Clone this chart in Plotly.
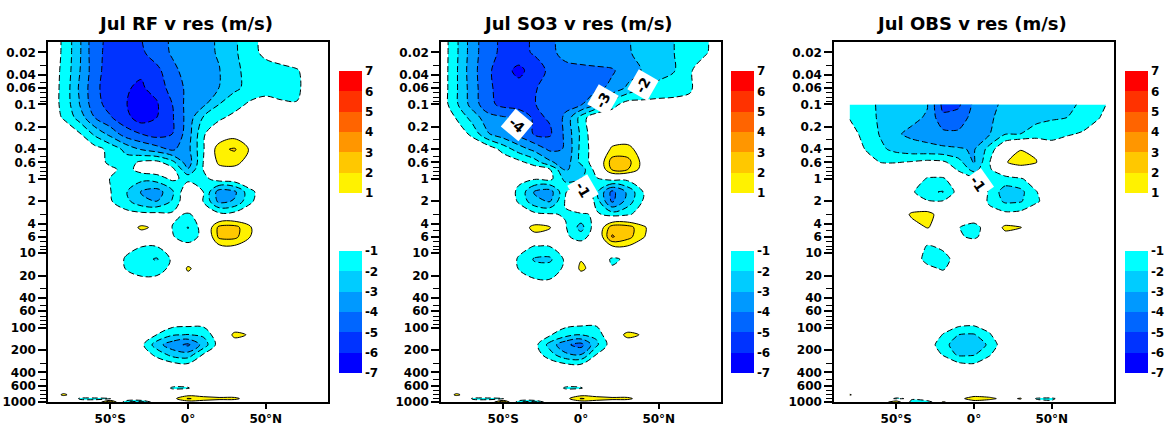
import numpy as np
import plotly.graph_objects as go

# ---------------- data ----------------
lat = [-90, -80, -70, -60, -50, -40, -30, -20, -10, 0, 10, 20, 30, 40, 50, 60, 70, 80, 90]
lat_obs = [-80, -70, -60, -50, -40, -30, -20, -10, 0, 10, 20, 30, 40, 50, 60, 70, 80, 85]
plev = [0.01, 0.02, 0.035, 0.06, 0.1, 0.15, 0.25, 0.4, 0.6, 0.75, 1, 1.5, 2, 3, 4.5, 6, 8,
        12, 16, 25, 50, 90, 125, 170, 230, 320, 500, 650, 800, 900, 1000]
plev_obs = [0.1, 0.15, 0.25, 0.4, 0.6, 0.75, 1, 1.5, 2, 3, 4.5, 6, 8,
            12, 16, 25, 50, 90, 125, 170, 230, 320, 500, 650, 800, 900, 1000]

rf_v = [
    [-0.3, -1.15, -2.8, -4.7, -5.2, -5.4, -5.0, -4.3, -3.9, -3.6, -3.3, -2.9, -2.15, -1.4, -0.7, -0.3, -0.1, 0, 0],
    [-0.3, -1.15, -2.8, -4.7, -5.3, -5.6, -5.2, -4.4, -3.9, -3.6, -3.3, -2.9, -2.15, -1.4, -0.7, -0.3, -0.1, 0, 0],
    [-0.4, -1.2, -2.9, -4.6, -5.5, -5.9, -5.9, -5.3, -4.2, -3.7, -3.4, -3.05, -2.2, -1.7, -1.5, -1.35, -1.1, -0.4, 0],
    [-0.4, -1.25, -3.1, -4.7, -5.6, -5.95, -6.1, -5.7, -4.5, -3.8, -3.4, -3.0, -2.2, -1.7, -1.5, -1.4, -1.2, -0.4, 0],
    [-0.4, -1.25, -2.95, -4.6, -5.4, -5.95, -6.6, -6.1, -5.0, -3.6, -3.2, -2.0, -1.4, -0.8, -0.5, -0.85, -0.95, -0.3, 0],
    [-0.4, -1.1, -2.4, -4.0, -4.9, -5.7, -6.5, -6.0, -5.1, -3.6, -1.9, -1.2, -0.7, -0.3, -0.2, -0.2, -0.2, -0.1, 0],
    [0, -0.3, -0.85, -2.2, -3.3, -4.5, -5.0, -5.4, -5.0, -3.5, -1.1, -0.2, 0.5, 0.3, 0, 0, 0, 0, 0],
    [0, 0, -0.2, -0.6, -1.3, -2.3, -3.1, -3.6, -4.2, -3.3, -1.1, 1.8, 2.1, 0.85, 0, 0, 0, 0, 0],
    [0, 0, 0, -0.3, -1.3, -1.5, -0.8, -0.7, -1.7, -3.6, -0.95, 1.3, 1.4, 0.4, 0, 0, 0, 0, 0],
    [0, 0, 0, -0.2, -0.7, -1.4, -0.6, -0.4, -0.7, -2.9, -0.95, 0.5, 0.6, 0, 0, 0, 0, 0, 0],
    [0, 0, 0, -0.3, -1.05, -1.5, -1.7, -1.5, -0.8, -1.3, -1.3, -0.5, -0.3, 0, 0, 0, 0, 0, 0],
    [0, 0, 0, -0.2, -0.95, -1.9, -3.1, -3.5, -2.2, 0.0, -1.02, -3.5, -3.2, -1.3, -0.3, 0, 0, 0, 0],
    [0, 0, 0, -0.2, -0.9, -1.7, -2.7, -3.0, -1.9, 0.0, -1.05, -3.3, -2.9, -1.2, -0.2, 0, 0, 0, 0],
    [0, 0, 0, 0, -0.4, -0.6, -0.7, -0.7, -0.8, -1.1, -0.6, -0.7, -0.6, -0.3, 0, 0, 0, 0, 0],
    [0, 0, 0, 0, 0, 0.1, 1.25, 0.7, -1.05, -2.05, -0.45, 2.3, 2.4, 1.1, 0.2, 0, 0, 0, 0],
    [0, 0, 0, 0, 0, 0, 0.3, 0.1, -0.9, -1.7, -0.6, 2.25, 2.3, 1.0, 0.1, 0, 0, 0, 0],
    [0, 0, 0, 0, -0.2, -0.7, -0.95, -0.95, -0.6, -0.6, -0.1, 0.8, 0.9, 0.4, 0, 0, 0, 0, 0],
    [0, 0, 0, 0, -0.3, -1.1, -1.7, -2.1, -0.8, 0.2, 0, 0, 0, 0, 0, 0, 0, 0, 0],
    [0, 0, 0, 0, -0.3, -1.05, -1.6, -1.5, -0.7, 1.2, 0.2, 0, 0, 0, 0, 0, 0, 0, 0],
    [0, 0, 0, 0, 0, -0.3, -0.5, -0.5, -0.2, 0.2, 0, 0, 0, 0, 0, 0, 0, 0, 0],
    [0, 0, 0, 0, 0, 0, 0, 0, 0, 0, 0, 0, 0, 0, 0, 0, 0, 0, 0],
    [0, 0, 0, 0, 0, 0, 0, -0.3, -0.6, -0.7, -0.7, -0.3, 0.2, 0.1, 0, 0, 0, 0, 0],
    [0, 0, 0, 0, 0, 0, -0.3, -1.02, -1.9, -2.05, -1.8, -0.2, 1.25, 0.9, 0, 0, 0, 0, 0],
    [0, 0, 0, 0, 0, 0, -0.7, -2.6, -3.6, -4.2, -2.6, -0.5, 0.4, 0.3, 0, 0, 0, 0, 0],
    [0, 0, 0, 0, 0, 0, -0.3, -1.3, -2.4, -2.6, -0.9, -0.2, 0, 0, 0, 0, 0, 0, 0],
    [0, 0, 0, 0, 0, 0, 0, -0.2, -0.5, -0.7, -0.3, 0, 0, 0, 0, 0, 0, 0, 0],
    [0, 0, 0, 0, 0, 0, 0, 0, 0, 0, 0, 0, 0, 0, 0, 0, 0, 0, 0],
    [0, 0, 0, 0, 0, 0, 0, 0, -1.15, -1.1, 0, 0, 0, 0, 0, 0, 0, 0, 0],
    [0, 1.2, 0.3, 0, 0, 0, 0, 0, 0.1, 0.6, 0.4, 0.3, 0.3, 0, 0, 0, 0, 0, 0],
    [0, 0.2, -1.1, -1.2, -1.1, 0.5, 0.6, 0, 0.6, 2.1, 1.6, 1.3, 1.3, 0.3, 0, 0, 0, 0, 0],
    [0, 0, -0.5, -0.6, 3.0, -2.0, -2.5, 0, 0, 0.5, 0.4, 0.3, 0.2, 0, 0, 0, 0, 0, 0],
]

so3_v = [
    [-0.3, -1.85, -3.5, -4.7, -5.2, -5.3, -4.9, -4.3, -3.6, -3.4, -3.35, -3.3, -3.1, -2.7, -2.35, -2.0, -1.5, -1.1, -0.5],
    [-0.3, -1.85, -3.5, -4.7, -5.2, -5.3, -4.9, -4.3, -3.6, -3.4, -3.35, -3.3, -3.1, -2.7, -2.35, -2.0, -1.5, -1.1, -0.5],
    [-0.3, -1.9, -3.6, -4.8, -5.6, -6.3, -5.5, -4.8, -4.4, -4.3, -4.2, -4.1, -3.6, -2.9, -2.4, -2.05, -1.1, -0.5, -0.2],
    [-0.3, -1.9, -3.5, -4.8, -5.4, -5.6, -5.1, -4.6, -4.4, -4.3, -4.2, -3.8, -2.8, -2.05, -1.7, -1.4, -1.1, -0.5, -0.2],
    [-0.3, -1.85, -3.4, -4.7, -5.3, -5.5, -5.05, -4.6, -4.3, -4.1, -3.0, -1.4, -0.5, -0.6, -0.6, -0.7, -0.8, -0.3, 0],
    [0, -1.1, -2.4, -3.6, -3.9, -4.2, -5.2, -4.9, -3.8, -1.6, 0, -0.3, -0.2, -0.2, -0.2, -0.1, -0.1, 0, 0],
    [0, -0.3, -1.25, -2.9, -3.6, -4.3, -5.1, -5.15, -3.8, -1.8, 0, 0.1, 0.3, 0.2, 0, 0, 0, 0, 0],
    [0, 0, 0, -0.3, -1.4, -2.5, -3.3, -4.2, -3.95, -1.7, -0.3, 1.2, 1.3, 0.5, 0, 0, 0, 0, 0],
    [0, 0, 0, 0, -0.2, -0.7, -1.5, -2.8, -3.6, -1.75, -0.3, 2.5, 2.4, 0.6, 0, 0, 0, 0, 0],
    [0, 0, 0, 0, 0, -0.2, -0.4, -0.95, -3.1, -2.6, -0.5, 2.1, 2.0, 0.5, 0, 0, 0, 0, 0],
    [0, 0, 0, 0, -0.3, -0.8, -0.9, -0.7, -2.3, -2.0, -1.1, -0.6, -0.7, -0.3, 0, 0, 0, 0, 0],
    [0, 0, 0, 0, -0.3, -1.2, -3.1, -3.5, -1.1, 0.3, -1.8, -4.3, -2.8, -1.02, -0.2, 0, 0, 0, 0],
    [0, 0, 0, 0, -0.3, -1.1, -2.7, -3.1, -0.9, 1.3, -1.5, -4.2, -2.6, -0.9, -0.2, 0, 0, 0, 0],
    [0, 0, 0, 0, -0.2, -0.5, -0.7, -0.9, -1.1, -1.2, -0.8, -1.5, -1.2, -0.4, 0, 0, 0, 0, 0],
    [0, 0, 0, 0, 0, 0.1, 1.4, 1.1, -0.9, -2.4, -0.3, 2.6, 2.5, 1.2, 0.1, 0, 0, 0, 0],
    [0, 0, 0, 0, 0, 0, 0.6, 0.3, -0.8, -1.5, -0.3, 3.1, 2.4, 1.1, 0, 0, 0, 0, 0],
    [0, 0, 0, 0, -0.2, -0.7, -1.02, -0.95, -0.5, -0.4, 0, 0.98, 0.98, 0.4, 0, 0, 0, 0, 0],
    [0, 0, 0, 0, -0.3, -1.1, -2.1, -2.2, -0.8, 0.9, 0.1, -1.2, -0.8, 0, 0, 0, 0, 0, 0],
    [0, 0, 0, 0, -0.3, -1.05, -1.7, -1.6, -0.8, 1.3, 0.3, -0.9, -0.5, 0, 0, 0, 0, 0, 0],
    [0, 0, 0, 0, 0, -0.4, -0.7, -0.8, -0.3, -0.3, 0, 0, 0, 0, 0, 0, 0, 0, 0],
    [0, 0, 0, 0, 0, 0, 0, 0, 0, 0, 0, 0, 0, 0, 0, 0, 0, 0, 0],
    [0, 0, 0, 0, 0, 0, 0, -0.3, -0.7, -0.8, -0.8, -0.3, 0.2, 0.1, 0, 0, 0, 0, 0],
    [0, 0, 0, 0, 0, 0, -0.2, -0.9, -1.6, -2.0, -1.8, 0.3, 1.25, 0.9, 0, 0, 0, 0, 0],
    [0, 0, 0, 0, 0, 0, -0.6, -2.4, -3.8, -4.4, -2.2, -0.4, 0.4, 0.3, 0, 0, 0, 0, 0],
    [0, 0, 0, 0, 0, 0, -0.4, -1.6, -2.8, -3.0, -0.98, -0.2, 0, 0, 0, 0, 0, 0, 0],
    [0, 0, 0, 0, 0, 0, 0, -0.3, -0.7, -0.8, -0.3, 0, 0, 0, 0, 0, 0, 0, 0],
    [0, 0, 0, 0, 0, 0, 0, 0, 0, 0, 0, 0, 0, 0, 0, 0, 0, 0, 0],
    [0, 0, 0, 0, 0, 0, 0, 0, -1.15, -1.1, 0, 0, 0, 0, 0, 0, 0, 0, 0],
    [0, 1.2, 0.3, 0, 0, 0, 0, 0, 0.1, 0.6, 0.4, 0.3, 0.3, 0, 0, 0, 0, 0, 0],
    [0, 0.2, -1.1, -1.2, -1.1, 0.5, 0.6, 0, 0.6, 2.1, 1.6, 1.3, 1.3, 0.3, 0, 0, 0, 0, 0],
    [0, 0, -0.5, -0.6, 3.0, -2.0, -2.5, 0, 0, 0.5, 0.4, 0.3, 0.2, 0, 0, 0, 0, 0, 0],
]

obs_v = [
    [-1.1, -1.6, -2.2, -2.5, -2.7, -2.95, -5.3, -5.2, -3.8, -3.2, -2.85, -2.6, -2.4, -2.3, -2.15, -1.9, -1.3, -1.0],
    [-1.05, -1.5, -2.2, -2.6, -2.8, -3.1, -4.8, -4.6, -3.6, -3.2, -2.5, -2.3, -2.2, -2.1, -2.0, -1.5, -1.05, -0.8],
    [-0.6, -1.3, -2.1, -2.9, -3.2, -3.4, -3.7, -3.8, -3.5, -3.05, -2.05, -2.0, -1.7, -1.5, -1.1, -0.9, -0.6, -0.4],
    [-0.3, -1.02, -1.8, -2.3, -2.6, -2.7, -2.8, -2.9, -3.1, -1.6, 0.2, 0.95, 0.8, -0.3, -0.3, -0.2, 0, 0],
    [0, -0.6, -1.02, -1.05, -0.9, -0.7, -0.8, -1.6, -3.1, -1.05, 0.9, 1.5, 1.05, 0, 0, 0, 0, 0],
    [0, 0, -0.3, -0.4, -0.4, -0.3, -0.4, -1.1, -2.4, -1.1, -0.3, 0.3, 0.2, 0, 0, 0, 0, 0],
    [0, 0, 0, 0, -0.3, -1.1, -1.1, -0.5, -0.8, -1.1, -1.3, -1.1, -0.5, 0, 0, 0, 0, 0],
    [0, 0, 0, 0, -0.8, -1.9, -2.05, -0.6, -0.3, -1.1, -2.6, -2.3, -1.05, -0.3, 0, 0, 0, 0],
    [0, 0, 0, 0, -0.3, -0.9, -0.95, -0.3, 0, -1.2, -2.2, -2.1, -1.2, -0.3, 0, 0, 0, 0],
    [0, 0, 0, 0, 1.2, 1.5, 0.3, 0, 0, -0.6, -0.7, -0.6, 0, 0, 0, 0, 0, 0],
    [0, 0, 0, 0, 0.5, 1.05, 0.6, -0.95, -1.5, -0.3, 1.3, 1.05, 0, 0, 0, 0, 0, 0],
    [0, 0, 0, 0, 0, 0.2, 0, -0.8, -1.3, -0.2, 0.5, 0.2, 0, 0, 0, 0, 0, 0],
    [0, 0, 0, 0, 0, -1.1, -0.8, 0, 0, 0, 0, 0, 0, 0, 0, 0, 0, 0],
    [0, 0, 0, 0, -0.3, -1.4, -1.35, -0.6, 0, 0, 0, 0, 0, 0, 0, 0, 0, 0],
    [0, 0, 0, 0, 0, -0.7, -1.15, -0.3, 0, 0, 0, 0, 0, 0, 0, 0, 0, 0],
    [0, 0, 0, 0, 0, 0, 0, 0, 0, 0, 0, 0, 0, 0, 0, 0, 0, 0],
    [0, 0, 0, 0, 0, 0, 0, 0, 0, 0, 0, 0, 0, 0, 0, 0, 0, 0],
    [0, 0, 0, 0, 0, 0, -0.5, -0.7, -0.8, -0.6, 0, 0, 0, 0, 0, 0, 0, 0],
    [0, 0, 0, 0, 0, -0.2, -1.05, -2.0, -2.1, -1.1, -0.2, 0, 0, 0, 0, 0, 0, 0],
    [0, 0, 0, 0, 0, -0.4, -1.6, -2.6, -2.7, -1.8, -0.2, 0, 0, 0, 0, 0, 0, 0],
    [0, 0, 0, 0, 0, 0, -1.1, -2.2, -2.1, -1.1, -0.1, 0, 0, 0, 0, 0, 0, 0],
    [0, 0, 0, 0, 0, 0, 0, -0.6, -0.8, -0.4, 0, 0, 0, 0, 0, 0, 0, 0],
    [0, 0, 0, 0, 0, 0, 0, 0, 0, 0, 0, 0, 0, 0, 0, 0, 0, 0],
    [0, 0, 0, 0, 0, 0, 0, 0, 0, 0, 0, 0, 0, 0, 0, 0, 0, 0],
    [1.1, 0.2, 0, 0, 0, 0, 0, 0.1, 0.5, 0.4, 0.2, 0.2, 0, 0, 0, 0, 0, 0],
    [0.2, 0, 0, -1.2, -0.8, 0.5, -1.0, 0.6, 1.6, 1.3, 0.6, 1.1, -1.1, -1.2, -0.3, 0, 0, 0],
    [0, 0, 0, 2.0, -1.5, -2.0, 1.2, 0, 0.5, 0.3, 0, 0.4, -0.6, -0.8, 0, 0, 0, 0],
]

titles = ["Jul RF v res (m/s)", "Jul SO3 v res (m/s)", "Jul OBS v res (m/s)"]

p_tickvals = [0.02, 0.04, 0.06, 0.1, 0.2, 0.4, 0.6, 1, 2, 4, 6, 10, 20, 40, 60, 100, 200, 400, 600, 1000]
p_ticktext = ["0.02", "0.04", "0.06", "0.1", "0.2", "0.4", "0.6", "1", "2", "4", "6", "10",
              "20", "40", "60", "100", "200", "400", "600", "1000"]
p_minor = [0.03, 0.05, 0.07, 0.08, 0.09, 0.3, 0.5, 0.7, 0.8, 0.9, 3, 5, 7, 8, 9,
           30, 50, 70, 80, 90, 300, 500, 700, 800, 900]
lat_tickvals = [-50, 0, 50]
lat_ticktext = ["50°S", "0°", "50°N"]

pos_levels = [1, 2, 3, 4, 5, 6, 7]
neg_levels = [-7, -6, -5, -4, -3, -2, -1]

# contour labels: (panel, text, x px, y px, angle)
labels = [
    (1, "-4", 517, 125, 40),
    (1, "-3", 603, 100, -60),
    (1, "-2", 643, 85, -60),
    (1, "-1", 583, 190, 60),
    (2, "-1", 978, 184, 55),
]

# ---------------- styling ----------------
POS_COLORS = ["#FFF200", "#FFC800", "#FF9600", "#FF6400", "#FF3200", "#FF0000"]
NEG_COLORS = ["#00FFFF", "#00CCFF", "#0099FF", "#0066FF", "#0033FF", "#0000FF"]
CLEAR = "rgba(255,255,255,0)"
FONT = "DejaVu Sans"

W, H = 1170, 427
PLOT_X = [(48, 328), (441, 721), (834, 1114)]
PLOT_TOP, PLOT_BOT = 42, 402
CBAR_X = [339, 731, 1125]
CBAR_W = 23
POS_BAR = (71, 193)
NEG_BAR = (251, 373)


def band_scale(colors):
    cols = [CLEAR] + colors + [colors[-1]]
    return [[i / 7, c] for i, c in enumerate(cols)]


def step_scale(colors):
    n = len(colors)
    out = []
    for i, c in enumerate(colors):
        out += [[i / n, c], [(i + 1) / n, c]]
    return out


tickfont = dict(family=FONT, size=12, color="black", weight="bold")

fig = go.Figure()
panels = [(lat, plev, rf_v), (lat, plev, so3_v), (lat_obs, plev_obs, obs_v)]
for i, (x, y, z) in enumerate(panels):
    ax = "" if i == 0 else str(i + 1)
    zz = np.array(z, dtype=float) + 0.003
    smooth = 1.0 if i < 2 else 0.6
    # negative values: contour the magnitude so higher bands nest correctly
    fig.add_trace(go.Contour(
        x=x, y=y, z=(-zz).tolist(), autocontour=False,
        contours=dict(start=-neg_levels[-1], end=-neg_levels[0], size=1, coloring="fill"),
        colorscale=band_scale(NEG_COLORS), showscale=False,
        line=dict(color="black", width=1, dash="6px,3px", smoothing=smooth),
        xaxis="x" + ax, yaxis="y" + ax, hoverinfo="skip"))
    fig.add_trace(go.Contour(
        x=x, y=y, z=zz.tolist(), autocontour=False,
        contours=dict(start=pos_levels[0], end=pos_levels[-1], size=1, coloring="fill"),
        colorscale=band_scale(POS_COLORS), showscale=False,
        line=dict(color="black", width=1, smoothing=smooth),
        xaxis="x" + ax, yaxis="y" + ax, hoverinfo="skip"))
    # colour bars
    for levels, cols, (t, b) in [(pos_levels, POS_COLORS, POS_BAR),
                                 (neg_levels, NEG_COLORS[::-1], NEG_BAR)]:
        fig.add_trace(go.Scatter(
            x=[None], y=[None], mode="markers", showlegend=False, hoverinfo="skip",
            xaxis="x" + ax, yaxis="y" + ax,
            marker=dict(color=[levels[0], levels[-1]], cmin=levels[0], cmax=levels[-1],
                        colorscale=step_scale(cols), showscale=True,
                        colorbar=dict(x=CBAR_X[i] / W, xanchor="left", xpad=0, ypad=0,
                                      y=1 - t / H, yanchor="top", len=(b - t) / H, lenmode="fraction",
                                      thickness=CBAR_W, thicknessmode="pixels", outlinewidth=0,
                                      tickvals=levels, ticktext=[str(v) for v in levels],
                                      ticks="", tickfont=tickfont))))

    l, r = PLOT_X[i]
    fig.update_layout(**{
        "xaxis" + ax: dict(domain=[l / W, r / W], range=[-90, 90], anchor="y" + ax,
                           tickvals=lat_tickvals, ticktext=lat_ticktext, ticks="outside",
                           ticklen=5, tickwidth=1.5, tickcolor="black", automargin=False,
                           showline=True, linewidth=1.5, linecolor="black", mirror=True,
                           showgrid=False, zeroline=False, tickfont=tickfont),
        "yaxis" + ax: dict(domain=[1 - PLOT_BOT / H, 1 - PLOT_TOP / H], type="log",
                           range=[3.0, -1.839], anchor="x" + ax, automargin=False,
                           tickvals=p_tickvals, ticktext=p_ticktext, ticks="outside",
                           ticklen=8, tickwidth=1.5, tickcolor="black",
                           minor=dict(tickvals=p_minor, ticks="outside", ticklen=6,
                                      tickwidth=1.2, tickcolor="black"),
                           showline=True, linewidth=1.5, linecolor="black", mirror=True,
                           showgrid=False, zeroline=False, tickfont=tickfont),
    })

annotations = []
for i, t in enumerate(titles):
    l, r = PLOT_X[i]
    annotations.append(dict(text=t, x=((l + r) / 2 - 3) / W, y=1 - 24 / H, xref="paper", yref="paper",
                            xanchor="center", yanchor="middle", showarrow=False,
                            font=dict(family=FONT, size=18, color="black", weight="bold")))
for pnl, txt, px, py, ang in labels:
    annotations.append(dict(text=txt, x=px / W, y=1 - py / H, xref="paper", yref="paper",
                            xanchor="center", yanchor="middle", showarrow=False, textangle=ang,
                            bgcolor="white", borderpad=3,
                            font=dict(family=FONT, size=14, color="black", weight="bold")))

fig.update_layout(width=W, height=H, margin=dict(l=0, r=0, t=0, b=0, autoexpand=False),
                  paper_bgcolor="white", plot_bgcolor="white", showlegend=False,
                  annotations=annotations)

fig.write_html("out.html")
